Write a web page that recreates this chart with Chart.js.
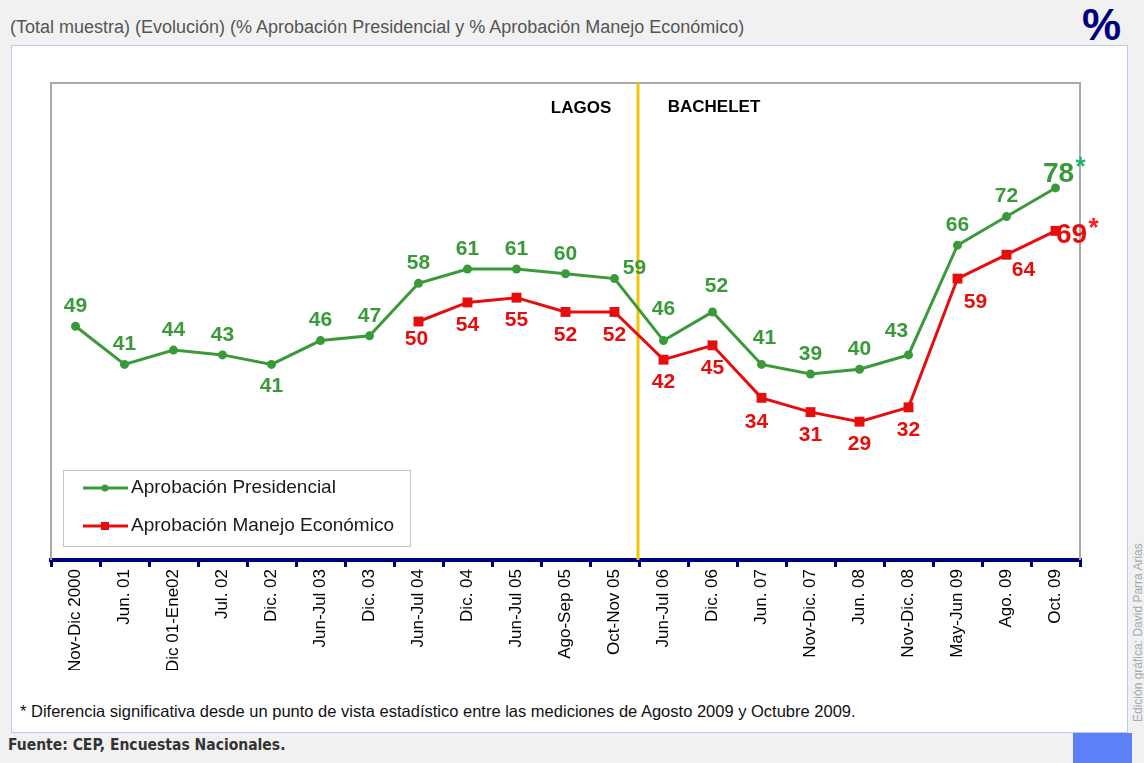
<!DOCTYPE html>
<html>
<head>
<meta charset="utf-8">
<script src="https://cdn.jsdelivr.net/npm/chart.js@4.4.0/dist/chart.umd.min.js"></script>
<style>
  body { margin: 0; background: #f1f1f1; width: 1144px; height: 763px; overflow: hidden; position: relative; font-family: "Liberation Sans", Arial, sans-serif; }
  #panel { position: absolute; left: 11px; top: 45px; width: 1115px; height: 686px; background: #fff; border: 1px solid #b9c9f4; }
  #title { position: absolute; left: 10px; top: 17px; font-size: 18px; color: #555; white-space: nowrap; }
  #pct { position: absolute; left: 1082px; top: 0px; font-size: 44px; font-weight: bold; color: #00007f; }
  #note { position: absolute; left: 20px; top: 702px; font-size: 16.5px; color: #111; white-space: nowrap; }
  #fuente { position: absolute; left: 8px; top: 736px; font-family: "DejaVu Sans Condensed", "DejaVu Sans", sans-serif; font-size: 15.5px; font-weight: bold; color: #333; white-space: nowrap; }
  #blue { position: absolute; left: 1073px; top: 733px; width: 59px; height: 30px; background: #5b80f8; }
  #firma { position: absolute; left: 1138px; top: 722px; transform-origin: 0 0; transform: rotate(-90deg) translateY(-50%); font-size: 12px; color: #a8a8a8; white-space: nowrap; }
  #chart { position: absolute; left: 0; top: 0; }
</style>
</head>
<body>
<div id="panel"></div>
<div id="title">(Total muestra) (Evolución) (% Aprobación Presidencial y % Aprobación Manejo Económico)</div>
<div id="pct">%</div>
<div id="note">* Diferencia significativa desde un punto de vista estadístico entre las mediciones de Agosto 2009 y Octubre 2009.</div>
<div id="fuente">Fuente: CEP, Encuestas Nacionales.</div>
<div id="blue"></div>
<div id="firma">Edición gráfica: David Parra Arias</div>
<canvas id="chart" width="1144" height="763"></canvas>

<script>
const periods = ["Nov-Dic 2000", "Jun. 01", "Dic 01-Ene02", "Jul. 02", "Dic. 02", "Jun-Jul 03", "Dic. 03",
    "Jun-Jul 04", "Dic. 04", "Jun-Jul 05", "Ago-Sep 05", "Oct-Nov 05", "Jun-Jul 06", "Dic. 06",
    "Jun. 07", "Nov-Dic. 07", "Jun. 08", "Nov-Dic. 08", "May-Jun 09", "Ago. 09", "Oct. 09"];

const presidencial = [49, 41, 44, 43, 41, 46, 47, 58, 61, 61, 60, 59, 46, 52, 41, 39, 40, 43, 66, 72, 78];
const economico = [null, null, null, null, null, null, null, 50, 54, 55, 52, 52, 42, 45, 34, 31, 29, 32, 59, 64, 69];

const seriesNames = ["Aprobación Presidencial", "Aprobación Manejo Económico"];
const eras = ["LAGOS", "BACHELET"];
const lastLagos = 11; // index of Oct-Nov 05

const GREEN = "#3a9a3a";
const RED = "#e60d0d";
const NAVY = "#00007f";

// label placement tweaks: [dx, dy] from the point, default is above (green) / below (red)
const greenShift = { 4: [0, 22], 11: [20, -10], 12: [0, -31], 13: [4, -26], 14: [3, -26], 17: [-12, -24], 20: [3, -14] };
const redShift = { 7: [-2, 18], 14: [-5, 24], 18: [18, 24], 19: [17, 15], 20: [16, 4] };

const frame = {
    id: "frame",
    beforeDatasetsDraw(chart) {
        const { ctx, chartArea: a, scales } = chart;
        ctx.save();
        ctx.strokeStyle = "#a8a8a8";
        ctx.lineWidth = 2;
        ctx.beginPath();
        ctx.moveTo(a.left, a.bottom);
        ctx.lineTo(a.left, a.top);
        ctx.lineTo(a.right, a.top);
        ctx.lineTo(a.right, a.bottom);
        ctx.stroke();
        // divider between Lagos and Bachelet
        const x = (scales.x.getPixelForValue(lastLagos) + scales.x.getPixelForValue(lastLagos + 1)) / 2 - 1;
        ctx.strokeStyle = "#f5c400";
        ctx.lineWidth = 3;
        ctx.beginPath();
        ctx.moveTo(x, a.top);
        ctx.lineTo(x, a.bottom);
        ctx.stroke();
        ctx.fillStyle = "#000";
        ctx.font = "bold 17px 'Liberation Sans', Arial";
        ctx.textAlign = "center";
        ctx.textBaseline = "middle";
        ctx.fillText(eras[0], x - 57, a.top + 25);
        ctx.fillText(eras[1], x + 76, a.top + 24);
        ctx.restore();
    }
};

const valueLabels = {
    id: "valueLabels",
    afterDatasetsDraw(chart) {
        const { ctx } = chart;
        ctx.save();
        ctx.textAlign = "center";
        ctx.textBaseline = "middle";
        chart.data.datasets.forEach((ds, di) => {
            const meta = chart.getDatasetMeta(di);
            const shifts = di === 0 ? greenShift : redShift;
            meta.data.forEach((pt, i) => {
                const v = ds.data[i];
                if (v === null) return;
                const s = shifts[i] || (di === 0 ? [0, -20] : [0, 23]);
                const last = i === ds.data.length - 1;
                ctx.font = "bold " + (last ? 28 : 21) + "px 'Liberation Sans', Arial";
                ctx.fillStyle = ds.borderColor;
                const tx = pt.x + s[0], ty = pt.y + s[1];
                ctx.fillText(String(v), tx, ty);
                if (last) {
                    ctx.font = "bold 26px 'Liberation Sans', Arial";
                    ctx.fillStyle = di === 0 ? "#1fb56e" : "#ff1a1a";
                    ctx.fillText("*", tx + 22, ty - 6);
                }
            });
        });
        ctx.restore();
    }
};

const legendBox = {
    id: "legendBox",
    afterDraw(chart) {
        const { ctx, chartArea: a } = chart;
        const left = a.left + 12, top = a.bottom - 90;
        ctx.save();
        ctx.fillStyle = "#fff";
        ctx.fillRect(left, top, 347, 76);
        ctx.strokeStyle = "#c4c4c4";
        ctx.lineWidth = 1;
        ctx.strokeRect(left + 0.5, top + 0.5, 347, 76);
        chart.data.datasets.forEach((ds, di) => {
            const y = top + 18 + di * 38;
            ctx.strokeStyle = ds.borderColor;
            ctx.lineWidth = 3;
            ctx.beginPath();
            ctx.moveTo(left + 20, y);
            ctx.lineTo(left + 65, y);
            ctx.stroke();
            ctx.fillStyle = ds.borderColor;
            if (di === 0) {
                ctx.beginPath();
                ctx.arc(left + 42, y, 3.5, 0, Math.PI * 2);
                ctx.fill();
            } else {
                ctx.fillRect(left + 38, y - 4, 8, 8);
            }
            ctx.fillStyle = "#1a1a1a";
            ctx.font = "19px 'Liberation Sans', Arial";
            ctx.textAlign = "left";
            ctx.textBaseline = "middle";
            ctx.fillText(seriesNames[di], left + 68, y);
        });
        ctx.restore();
    }
};

new Chart(document.getElementById("chart"), {
    type: "line",
    data: {
        labels: periods,
        datasets: [
            {
                label: seriesNames[0],
                data: presidencial,
                borderColor: GREEN,
                backgroundColor: GREEN,
                borderWidth: 3,
                tension: 0,
                pointStyle: "circle",
                pointRadius: 4.5,
                pointBorderWidth: 0
            },
            {
                label: seriesNames[1],
                data: economico,
                borderColor: RED,
                backgroundColor: RED,
                borderWidth: 3,
                tension: 0,
                pointStyle: "rect",
                pointRadius: 7,
                pointBorderWidth: 0
            }
        ]
    },
    options: {
        responsive: false,
        animation: false,
        events: [],
        layout: { padding: { left: 51, right: 64, top: 83, bottom: 93 } },
        plugins: { legend: { display: false }, tooltip: { enabled: false } },
        scales: {
            x: {
                offset: true,
                afterFit: (s) => { s.height = 110; },
                grid: { offset: true, drawOnChartArea: false, drawTicks: true, tickLength: 7, color: NAVY, lineWidth: 3 },
                border: { color: NAVY, width: 4 },
                ticks: {
                    autoSkip: false,
                    minRotation: 90,
                    maxRotation: 90,
                    padding: 2,
                    color: "#000",
                    font: { family: "'Liberation Sans', Arial", size: 17 }
                }
            },
            y: { display: false, min: 0, max: 100 }
        }
    },
    plugins: [frame, valueLabels, legendBox]
});
</script>
</body>
</html>
